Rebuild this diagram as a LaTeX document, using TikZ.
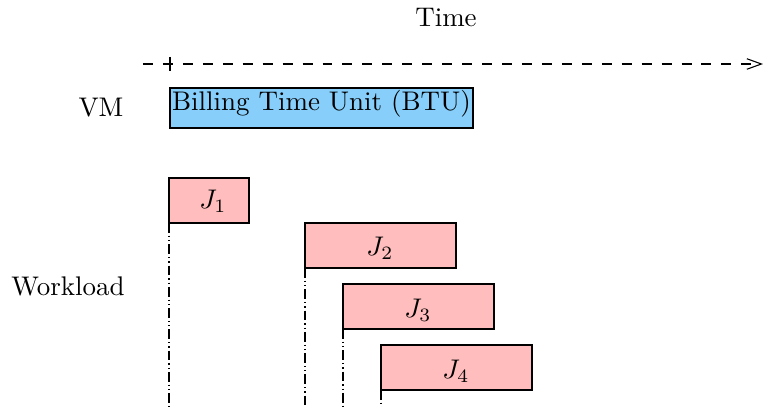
\documentclass[tikz,border=0pt]{standalone}
\usetikzlibrary{arrows.meta}
\definecolor{btublue}{RGB}{135,206,250}
\definecolor{jobpink}{RGB}{255,189,189}
\begin{document}
\begin{tikzpicture}[x=0.371pt,y=-0.371pt,
  lbl/.style={inner sep=0pt,anchor=center},
  job/.style={draw,fill=jobpink,line width=0.4pt},
  startline/.style={dash pattern=on 3.6pt off 1.1pt on 0.5pt off 1.1pt on 0.5pt off 1.1pt,line width=0.4pt},
  timeline/.style={dash pattern=on 3.7pt off 3.7pt,line width=0.4pt}]
\useasboundingbox (0,0) rectangle (768,407);
\node[lbl] (time) at (446,18) {Time};
\coordinate (tl) at (143,64);
\coordinate (tr) at (763,64);
\draw[timeline,-{Straight Barb[length=5.4pt,width=3.9pt]}] (tl) -- (tr);
\coordinate (tickt) at (170,57);
\coordinate (tickb) at (170,71);
\draw[line width=0.4pt] (tickt) -- (tickb);
\node[lbl] (vm) at (101,108) {VM};
\draw[fill=btublue,line width=0.4pt] (170,88) rectangle (473,128);
\node[lbl] (btu) at (321.5,104) {Billing Time Unit (BTU)};
\node[lbl] (wl) at (68,286) {Workload};
% jobs
\draw[job] (169,178) rectangle (249,223);
\node[lbl] (j1) at (213,201) {$J_1$};
\draw[job] (305,223) rectangle (456,268);
\node[lbl] (j2) at (380,248) {$J_2$};
\draw[job] (343,284) rectangle (494,329);
\node[lbl] (j3) at (418,310) {$J_3$};
\draw[job] (381,345) rectangle (532,390);
\node[lbl] (j4) at (456,371) {$J_4$};
% start lines
\coordinate (s1t) at (169,223); \coordinate (s1b) at (169,407);
\coordinate (s2t) at (305,268); \coordinate (s2b) at (305,407);
\coordinate (s3t) at (343,329); \coordinate (s3b) at (343,407);
\coordinate (s4t) at (381,390); \coordinate (s4b) at (381,407);
\draw[startline] (s1t) -- (s1b);
\draw[startline] (s2t) -- (s2b);
\draw[startline] (s3t) -- (s3b);
\draw[startline] (s4t) -- (s4b);
\end{tikzpicture}
\end{document}
